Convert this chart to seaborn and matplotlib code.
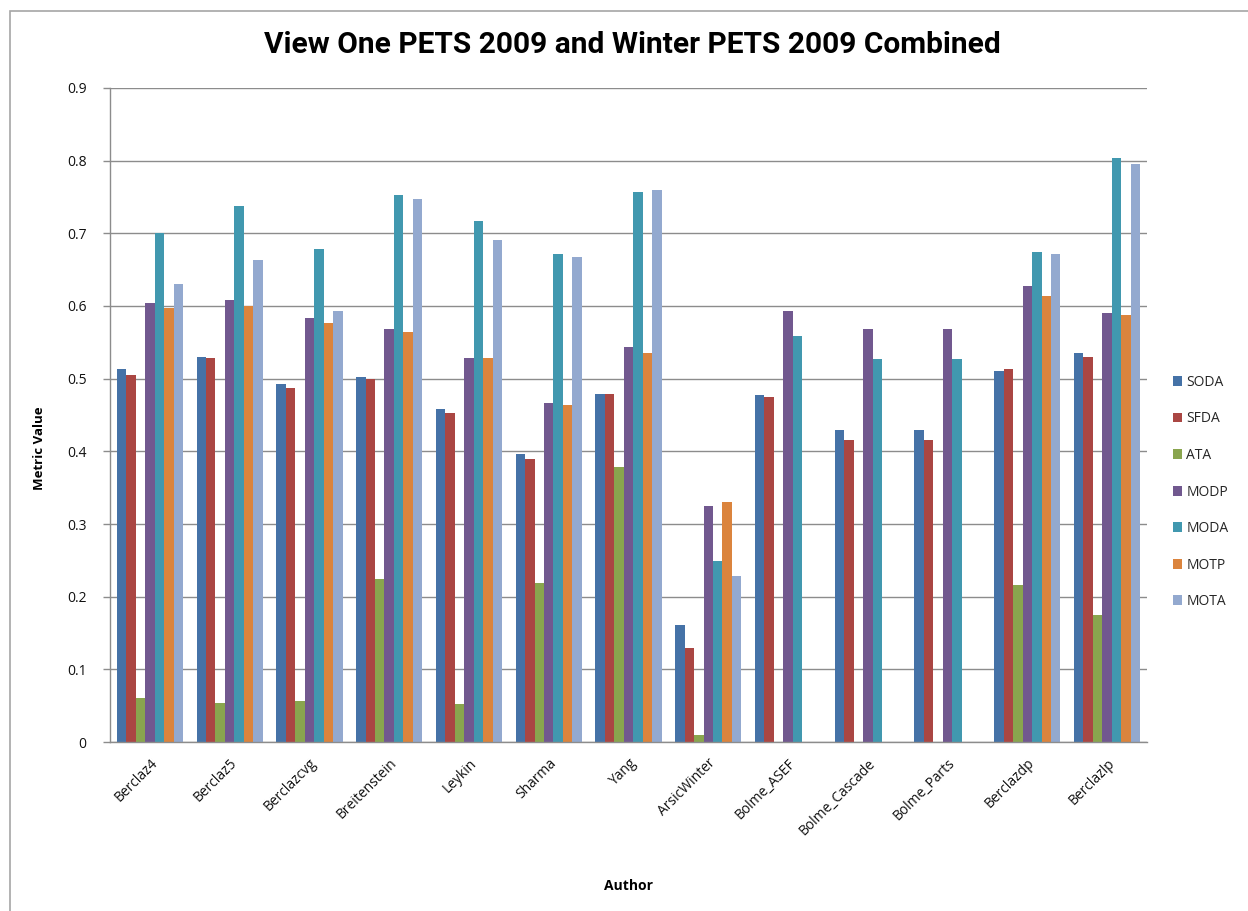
import numpy as np
import pandas as pd
import matplotlib
matplotlib.use("Agg")
import matplotlib.pyplot as plt
from matplotlib.patches import Rectangle
import seaborn as sns

authors = ["Berclaz4", "Berclaz5", "Berclazcvg", "Breitenstein", "Leykin", "Sharma",
           "Yang", "ArsicWinter", "Bolme_ASEF", "Bolme_Cascade", "Bolme_Parts",
           "Berclazdp", "Berclazlp"]
metrics = ["SODA", "SFDA", "ATA", "MODP", "MODA", "MOTP", "MOTA"]

nan = np.nan
soda = [0.513, 0.530, 0.493, 0.502, 0.458, 0.396, 0.479, 0.161, 0.478, 0.430, 0.430, 0.510, 0.536]
sfda = [0.505, 0.528, 0.487, 0.500, 0.453, 0.390, 0.479, 0.130, 0.475, 0.415, 0.415, 0.513, 0.530]
ata = [0.060, 0.054, 0.056, 0.225, 0.052, 0.219, 0.379, 0.009, nan, nan, nan, 0.216, 0.175]
modp = [0.604, 0.608, 0.583, 0.568, 0.528, 0.466, 0.544, 0.325, 0.593, 0.568, 0.568, 0.627, 0.591]
moda = [0.700, 0.738, 0.678, 0.753, 0.717, 0.672, 0.757, 0.249, 0.559, 0.527, 0.527, 0.674, 0.803]
motp = [0.597, 0.600, 0.576, 0.564, 0.528, 0.464, 0.536, 0.330, nan, nan, nan, 0.614, 0.587]
mota = [0.630, 0.663, 0.593, 0.747, 0.691, 0.668, 0.759, 0.228, nan, nan, nan, 0.672, 0.795]

colors = ["#4572A7", "#AA4643", "#89A54E", "#71588F", "#4198AF", "#DB843D", "#93A9CF"]

series = [soda, sfda, ata, modp, moda, motp, mota]
rows = []
for m, vals in zip(metrics, series):
    for a, v in zip(authors, vals):
        rows.append({"Author": a, "Metric": m, "Value": v})
df = pd.DataFrame(rows)

sns.set_theme(style="white")
plt.rcParams["font.family"] = ["Open Sans", "DejaVu Sans"]

fig = plt.figure(figsize=(12.48, 9.11), dpi=100)
ax = fig.add_axes([110 / 1248, 1 - 742 / 911, (1147 - 110) / 1248, (742 - 88) / 911])

sns.barplot(data=df, x="Author", y="Value", hue="Metric", hue_order=metrics,
            order=authors, palette=colors, width=0.83, saturation=1,
            errorbar=None, ax=ax, edgecolor="none", linewidth=0)

ax.set_ylim(0, 0.9)
ax.set_xlim(-0.5, len(authors) - 0.5)
yt = np.round(np.arange(0, 0.91, 0.1), 1)
ax.set_yticks(yt)
ax.set_yticklabels(["0"] + [f"{v:.1f}" for v in yt[1:]], fontsize=10, color="#111111")
ax.yaxis.grid(True, color="#8c8c8c", linewidth=1.0)
ax.set_axisbelow(True)

# category boundary ticks with labels centred between them
ax.set_xticks(np.arange(len(authors)))
ax.set_xticklabels(authors, rotation=45, ha="right", rotation_mode="anchor",
                   fontsize=10, color="#111111")
ax.tick_params(axis="x", length=0, pad=10)
ax.set_xticks(np.arange(-0.5, len(authors)), minor=True)
ax.tick_params(axis="x", which="minor", length=5, color="#8c8c8c", width=1, direction="out")
ax.tick_params(axis="y", length=5, color="#8c8c8c", width=1, direction="out", pad=12, left=True)

for side in ["top", "right"]:
    ax.spines[side].set_visible(False)
for side in ["left", "bottom"]:
    ax.spines[side].set_color("#8c8c8c")
    ax.spines[side].set_linewidth(1.0)

ax.set_xlabel("Author", fontsize=10, fontweight="bold", color="black")
ax.xaxis.set_label_coords(0.5, -0.21)
ax.set_ylabel("Metric Value", fontsize=9.5, fontweight="bold", color="black")
ax.yaxis.set_label_coords(-0.062, 0.45)

fig.text(632 / 1248, 1 - 45 / 911, "View One PETS 2009 and Winter PETS 2009 Combined",
         ha="center", va="center", fontsize=21.5, fontweight="bold", color="black",
         family=["Roboto", "DejaVu Sans"])

handles, labels = ax.get_legend_handles_labels()
ax.legend(handles, labels, loc="center left", bbox_to_anchor=(1160 / 1248, 1 - 492 / 911),
          bbox_transform=fig.transFigure, frameon=False, fontsize=10,
          handlelength=0.7, handleheight=0.7, handletextpad=0.3, labelspacing=1.55)

fig.patches.append(Rectangle((10 / 1248, -0.1), 1.2, 1 - 11 / 911 + 0.1,
                             transform=fig.transFigure, fill=False,
                             edgecolor="#a6a6a6", linewidth=1.2))

fig.savefig("out.png", dpi=100, facecolor="white")
